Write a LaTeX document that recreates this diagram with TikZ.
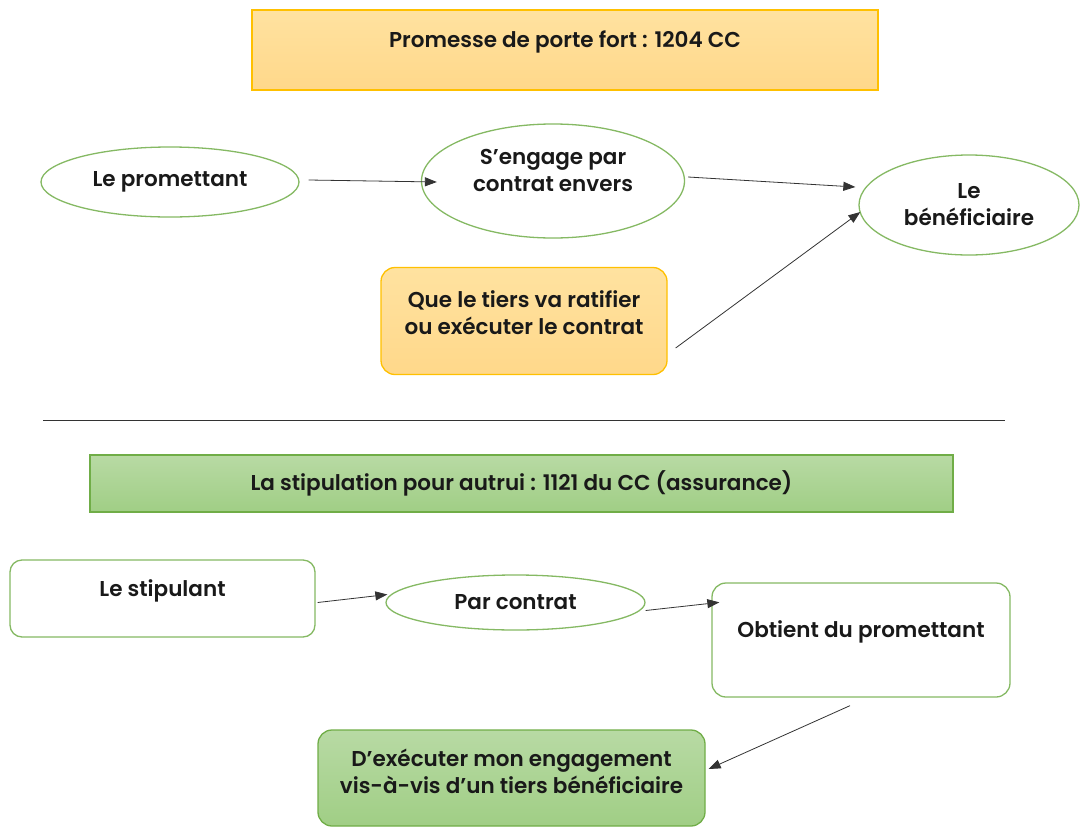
\documentclass[tikz,border=0pt]{standalone}
\usepackage{fontspec}
\setmainfont{Poppins}[BoldFont={* SemiBold}]
\usetikzlibrary{arrows.meta,shapes.geometric}
\definecolor{orfond}{RGB}{255, 216, 138}
\definecolor{orclair}{RGB}{255, 226, 160}
\definecolor{orbord}{RGB}{255, 192, 0}
\definecolor{vtfond}{RGB}{160, 206, 133}
\definecolor{vtclair}{RGB}{184, 218, 164}
\definecolor{vtbord}{RGB}{112, 173, 71}
\definecolor{texte}{RGB}{25, 25, 25}

\begin{document}
\begin{tikzpicture}[x=1pt,y=-1pt,
	font=\fontsize{21.5}{27}\selectfont\bfseries, text=texte,
	bulle/.style={ellipse, draw=vtbord!85, line width=1.3pt, fill=white, inner sep=0pt, align=center},
	boite/.style={rectangle, rounded corners=14pt, line width=1.3pt, inner sep=0pt},
	jaune/.style={draw=orbord, top color=orclair, bottom color=orfond},
	vert/.style={draw=vtbord, top color=vtclair, bottom color=vtfond},
	blanc/.style={draw=vtbord!85, fill=white},
	fleche/.style={draw=black!80, line width=0.8pt, -{Triangle[length=12pt,width=9pt]}}]
	\useasboundingbox (0,0) rectangle (1080,828);
	% promesse de porte fort
	\node[rectangle, jaune, line width=1.3pt, minimum width=626, minimum height=80,
		label={[yshift=8pt]center:Promesse de porte fort : 1204 CC}] (titre1) at (565,50) {};
	\node[bulle, minimum width=258, minimum height=70] (prom) at (170,182) {Le promettant};
	\node[bulle, minimum width=263, minimum height=114,
		label={[yshift=11pt, align=center]center:{S'engage par\\contrat envers}}] (eng) at (553,181) {};
	\node[bulle, minimum width=220, minimum height=100] (benef) at (969,205) {Le\\bénéficiaire};
	\node[boite, jaune, minimum width=286, minimum height=107,
		label={[yshift=8pt, align=center]center:{Que le tiers va ratifier\\ou exécuter le contrat}}] (tiers) at (524,321) {};
	\draw[fleche] ([shift={(9,-2)}]prom.east) -- ([shift={(16,1)}]eng.west);
	\draw[fleche] ([shift={(3,-4)}]eng.east) -- ([shift={(-3,-18)}]benef.west);
	\draw[fleche] ([shift={(8,27)}]tiers.east) -- ([shift={(2,7)}]benef.west);
	% separation
	\coordinate (sepg) at (43,420);
	\coordinate (sepd) at (1005,420);
	\draw[black!80, line width=1pt] (sepg) -- (sepd);
	% stipulation pour autrui
	\node[rectangle, vert, line width=1.3pt, minimum width=863, minimum height=57] (titre2) at (521.5,483.5) {La stipulation pour autrui : 1121 du CC (assurance)};
	\node[boite, blanc, rounded corners=12pt, minimum width=305, minimum height=77,
		label={[yshift=8pt]center:Le stipulant}] (stip) at (162.5,598.5) {};
	\node[bulle, minimum width=259, minimum height=55] (contrat) at (515.5,602.5) {Par contrat};
	\node[boite, blanc, minimum width=298, minimum height=114,
		label={[yshift=8pt]center:Obtient du promettant}] (obt) at (861,640) {};
	\node[boite, vert, minimum width=387, minimum height=96,
		label={[yshift=7pt, align=center]center:{D'exécuter mon engagement\\vis-à-vis d'un tiers bénéficiaire}}] (exec) at (511.5,778) {};
	\draw[fleche] ([shift={(2,4)}]stip.east) -- ([shift={(2,-8)}]contrat.west);
	\draw[fleche] ([shift={(0,8)}]contrat.east) -- ([shift={(8,20)}]obt.north west);
	\draw[fleche] ([shift={(-11,8)}]obt.south) -- ([shift={(3,-9)}]exec.east);
\end{tikzpicture}
\end{document}
